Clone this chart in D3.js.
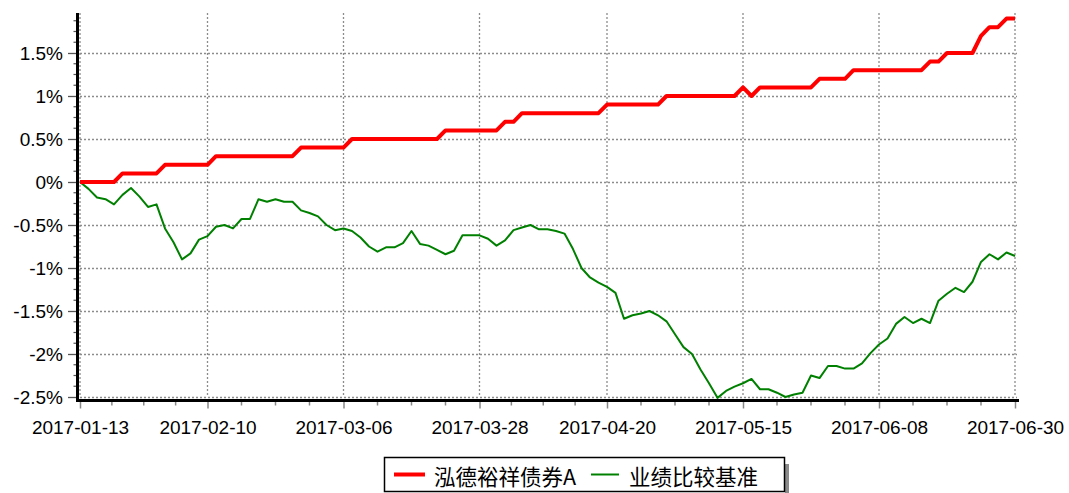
<!DOCTYPE html>
<html><head><meta charset="utf-8">
<script src="https://cdn.jsdelivr.net/npm/d3@7"></script>
<style>body{margin:0;background:#fff;} svg{display:block}</style>
</head><body>
<svg id="c" width="1069" height="493"></svg>
<script>
const dates = [
"2017-01-13","2017-01-16","2017-01-17","2017-01-18","2017-01-19","2017-01-20","2017-01-23","2017-01-24","2017-01-25","2017-01-26",
"2017-02-03","2017-02-06","2017-02-07","2017-02-08","2017-02-09","2017-02-10",
"2017-02-13","2017-02-14","2017-02-15","2017-02-16","2017-02-17",
"2017-02-20","2017-02-21","2017-02-22","2017-02-23","2017-02-24",
"2017-02-27","2017-02-28","2017-03-01","2017-03-02","2017-03-03",
"2017-03-06","2017-03-07","2017-03-08","2017-03-09","2017-03-10",
"2017-03-13","2017-03-14","2017-03-15","2017-03-16","2017-03-17",
"2017-03-20","2017-03-21","2017-03-22","2017-03-23","2017-03-24",
"2017-03-27","2017-03-28","2017-03-29","2017-03-30","2017-03-31",
"2017-04-05","2017-04-06","2017-04-07",
"2017-04-10","2017-04-11","2017-04-12","2017-04-13","2017-04-14",
"2017-04-17","2017-04-18","2017-04-19","2017-04-20","2017-04-21",
"2017-04-24","2017-04-25","2017-04-26","2017-04-27","2017-04-28",
"2017-05-02","2017-05-03","2017-05-04","2017-05-05",
"2017-05-08","2017-05-09","2017-05-10","2017-05-11","2017-05-12",
"2017-05-15","2017-05-16","2017-05-17","2017-05-18","2017-05-19",
"2017-05-22","2017-05-23","2017-05-24","2017-05-25","2017-05-26",
"2017-05-31","2017-06-01","2017-06-02",
"2017-06-05","2017-06-06","2017-06-07","2017-06-08","2017-06-09",
"2017-06-12","2017-06-13","2017-06-14","2017-06-15","2017-06-16",
"2017-06-19","2017-06-20","2017-06-21","2017-06-22","2017-06-23",
"2017-06-26","2017-06-27","2017-06-28","2017-06-29","2017-06-30"
];
const fundValues = [
0,0,0,0,0, 0.1,0.1,0.1,0.1,0.1, 0.2,0.2,0.2,0.2,0.2,0.2,
0.3,0.3,0.3,0.3,0.3,0.3,0.3,0.3,0.3,0.3,
0.4,0.4,0.4,0.4,0.4,0.4,
0.5,0.5,0.5,0.5,0.5,0.5,0.5,0.5,0.5,0.5,0.5,
0.6,0.6,0.6,0.6,0.6,0.6,0.6, 0.7,0.7,
0.8,0.8,0.8,0.8,0.8,0.8,0.8,0.8,0.8,0.8,
0.9,0.9,0.9,0.9,0.9,0.9,0.9,
1.0,1.0,1.0,1.0,1.0,1.0,1.0,1.0,1.0,
1.1,1.0,1.1,1.1,1.1,1.1,1.1,1.1,1.1,
1.2,1.2,1.2,1.2,
1.3,1.3,1.3,1.3,1.3,1.3,1.3,1.3,1.3,
1.4,1.4, 1.5,1.5,1.5,1.5, 1.7, 1.8,1.8, 1.9,1.9
];
const benchValues = [
0,-0.08,-0.18,-0.20,-0.26,-0.15,-0.07,-0.17,-0.29,-0.26,
-0.54,-0.70,-0.90,-0.83,-0.67,-0.63,-0.52,-0.50,-0.54,-0.43,
-0.43,-0.20,-0.23,-0.20,-0.23,-0.23,-0.33,-0.36,-0.40,-0.50,
-0.56,-0.54,-0.57,-0.645,-0.75,-0.81,-0.76,-0.76,-0.71,-0.57,
-0.72,-0.74,-0.79,-0.84,-0.80,-0.62,-0.62,-0.62,-0.66,-0.74,
-0.68,-0.56,-0.53,-0.50,-0.55,-0.55,-0.57,-0.60,-0.78,-1.00,
-1.11,-1.17,-1.22,-1.29,-1.59,-1.55,-1.53,-1.50,-1.55,-1.62,
-1.77,-1.92,-2.00,-2.18,-2.34,-2.51,-2.43,-2.38,-2.34,-2.29,
-2.41,-2.41,-2.45,-2.50,-2.47,-2.45,-2.25,-2.28,-2.14,-2.14,
-2.17,-2.17,-2.11,-1.99,-1.89,-1.82,-1.65,-1.57,-1.64,-1.59,
-1.64,-1.38,-1.30,-1.23,-1.28,-1.16,-0.93,-0.84,-0.90,-0.82,-0.86
];
const xTickLabels = ["2017-01-13","2017-02-10","2017-03-06","2017-03-28","2017-04-20","2017-05-15","2017-06-08","2017-06-30"];
const yTicks = [-2.5,-2,-1.5,-1,-0.5,0,0.5,1,1.5];
const seriesNames = ["泓德裕祥债券A","业绩比较基准"];
const seriesColors = ["#ff0000","#008000"];

(function () {
const svg = d3.select("#c");
const pLeft = 80, pRight = 1015, pTop = 13, pBottom = 397, axisY = 400.5, axisX = 77.5;
const x = d3.scalePoint().domain(dates).range([pLeft, pRight]);
const y = d3.scaleLinear().domain([-2.5, 1.965]).range([pBottom, pTop]);
const font = "'Liberation Sans', Arial, sans-serif";

// grid
const grid = svg.append("g").attr("stroke", "#8c8c8c").attr("stroke-width", 1.3).attr("stroke-dasharray", "2,2");
grid.selectAll("line.h").data(yTicks).enter().append("line")
  .attr("x1", pLeft).attr("x2", pRight + 2).attr("y1", d => Math.round(y(d)) + 0.5).attr("y2", d => Math.round(y(d)) + 0.5);
grid.selectAll("line.v").data(xTickLabels).enter().append("line")
  .attr("x1", d => x(d)).attr("x2", d => x(d)).attr("y1", pTop).attr("y2", pBottom);

// series
const line = d3.line().x((d, i) => x(dates[i])).y(d => y(d));
svg.append("path").datum(benchValues).attr("d", line).attr("fill", "none")
  .attr("stroke", seriesColors[1]).attr("stroke-width", 2).attr("stroke-linejoin", "round");
svg.append("path").datum(fundValues).attr("d", line).attr("fill", "none")
  .attr("stroke", seriesColors[0]).attr("stroke-width", 4).attr("stroke-linejoin", "round");

// y axis
const yAxis = svg.append("g").attr("transform", `translate(${axisX},0)`)
  .call(d3.axisLeft(y).tickValues(yTicks).tickFormat(d => d + "%").tickSize(9.5).tickPadding(5));
yAxis.select(".domain").remove();
yAxis.selectAll(".tick line").attr("stroke", "#555").attr("stroke-width", 1.3);
yAxis.selectAll(".tick text").attr("font-family", font).attr("font-size", 19).attr("fill", "#000");
const yMinor = [];
for (let k = 0; k < yTicks.length - 1; k++) for (let j = 1; j < 4; j++) yMinor.push(yTicks[k] + (yTicks[k+1]-yTicks[k]) * j / 4);
for (let j = 1; j < 4; j++) yMinor.push(1.5 + 0.125 * j);
svg.append("g").selectAll("line").data(yMinor).enter().append("line")
  .attr("x1", axisX - 4).attr("x2", axisX).attr("y1", d => y(d)).attr("y2", d => y(d))
  .attr("stroke", "#555").attr("stroke-width", 1.2);

// x axis
const xAxis = svg.append("g").attr("transform", `translate(0,${axisY})`)
  .call(d3.axisBottom(x).tickValues(xTickLabels).tickSize(8).tickPadding(12));
xAxis.select(".domain").remove();
xAxis.selectAll(".tick line").attr("stroke", "#888").attr("stroke-width", 1.5);
xAxis.selectAll(".tick text").attr("font-family", font).attr("font-size", 19).attr("fill", "#000");
const xMinor = [];
for (let k = 0; k < xTickLabels.length - 1; k++) {
  const a = x(xTickLabels[k]), b = x(xTickLabels[k+1]);
  for (let j = 1; j < 4; j++) xMinor.push(a + (b - a) * j / 4);
}
svg.append("g").selectAll("line").data(xMinor).enter().append("line")
  .attr("x1", d => d).attr("x2", d => d).attr("y1", axisY).attr("y2", axisY + 5)
  .attr("stroke", "#888").attr("stroke-width", 1.5);

// axis lines
svg.append("line").attr("x1", axisX).attr("x2", axisX).attr("y1", pTop).attr("y2", axisY + 1.5)
  .attr("stroke", "#000").attr("stroke-width", 3);
svg.append("line").attr("x1", axisX - 1.5).attr("x2", pRight + 4).attr("y1", axisY).attr("y2", axisY)
  .attr("stroke", "#000").attr("stroke-width", 3);

// legend
const lg = svg.append("g");
lg.append("rect").attr("x", 785).attr("y", 464).attr("width", 4).attr("height", 30).attr("fill", "#8a8a8a");
lg.append("rect").attr("x", 384.5).attr("y", 457.5).attr("width", 400).attr("height", 34)
  .attr("fill", "#fff").attr("stroke", "#000").attr("stroke-width", 1.5);
const legendItems = [
  {name: seriesNames[0], color: seriesColors[0], w: 4, x1: 394, x2: 425, tx: 434},
  {name: seriesNames[1], color: seriesColors[1], w: 2, x1: 591, x2: 619, tx: 629}
];
legendItems.forEach(it => {
  lg.append("line").attr("x1", it.x1).attr("x2", it.x2).attr("y1", 474.5).attr("y2", 474.5)
    .attr("stroke", it.color).attr("stroke-width", it.w);
  lg.append("text").attr("x", it.tx).attr("y", 475).attr("dominant-baseline", "central")
    .attr("font-family", "'Noto Sans CJK SC', sans-serif").attr("font-size", 21.5).attr("fill", "#000")
    .text(it.name);
});
})();
</script>
</body></html>
